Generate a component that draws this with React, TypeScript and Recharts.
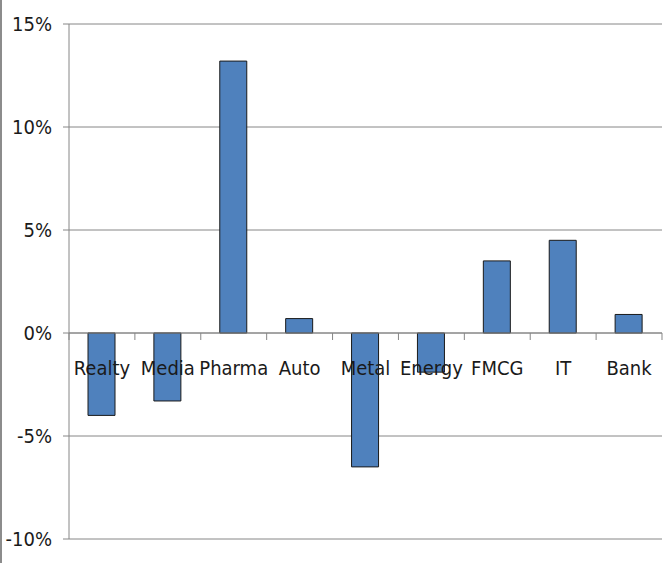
import { BarChart, Bar, XAxis, YAxis, CartesianGrid, ReferenceLine } from 'recharts';

const sectors = ['Realty', 'Media', 'Pharma', 'Auto', 'Metal', 'Energy', 'FMCG', 'IT', 'Bank'];
const returns = [-4.0, -3.3, 13.2, 0.7, -6.5, -1.9, 3.5, 4.5, 0.9];
const yTicks = [-10, -5, 0, 5, 10, 15];

const data = sectors.map((name, i) => ({ name, value: returns[i] }));

const W = 669;
const H = 563;
const M = { top: 24, right: 7, left: 0, bottom: 23 };
const X_H = 1;
const Y_MIN = yTicks[0];
const Y_MAX = yTicks[yTicks.length - 1];
const FONT = "'DejaVu Sans Condensed', 'DejaVu Sans', sans-serif";

// category labels sit on the zero line, like the Excel original
function CategoryTick(props: any) {
  const { x, y, payload, index } = props;
  const plotH = H - M.top - M.bottom - X_H;
  const zeroY = M.top + (plotH * Y_MAX) / (Y_MAX - Y_MIN);
  const bw = (W - 69 - M.right) / sectors.length;
  return (
    <g transform={`translate(${x},${zeroY})`}>
      <line x1={-bw / 2} x2={-bw / 2} y1={0} y2={7} stroke="#868686" />
      {index === sectors.length - 1 && <line x1={bw / 2} x2={bw / 2} y1={0} y2={7} stroke="#868686" />}
      <text x={0} y={42} textAnchor="middle" fill="#1a1a1a" fontSize={20} fontFamily={FONT} style={{ fontStretch: 'condensed' }}>
        {payload.value}
      </text>
    </g>
  );
}

export default function App() {
  return (
    <div style={{ position: 'fixed', left: 0, top: 0, width: W, height: H, background: '#fff' }}>
      <div style={{ position: 'absolute', left: 0, top: 0, width: 2, height: H, background: '#8c8c8c' }} />
      <BarChart width={W} height={H} data={data} margin={M}>
        <CartesianGrid vertical={false} stroke="#868686" strokeWidth={1} />
        <YAxis
          width={69}
          domain={[Y_MIN, Y_MAX]}
          ticks={yTicks}
          tickFormatter={(v: number) => `${v}%`}
          axisLine={{ stroke: '#868686' }}
          tickLine={{ stroke: '#868686' }}
          tickSize={6}
          tickMargin={11}
          tick={{ fill: '#1a1a1a', fontSize: 20, fontFamily: FONT, style: { fontStretch: 'condensed' } }}
        />
        <ReferenceLine y={0} stroke="#868686" />
        <Bar dataKey="value" fill="#4f81bd" stroke="#1a1a1a" strokeWidth={1} barSize={27} isAnimationActive={false} />
        <XAxis
          dataKey="name"
          height={X_H}
          axisLine={false}
          tickLine={false}
          tick={<CategoryTick />}
          interval={0}
        />
      </BarChart>
    </div>
  );
}
